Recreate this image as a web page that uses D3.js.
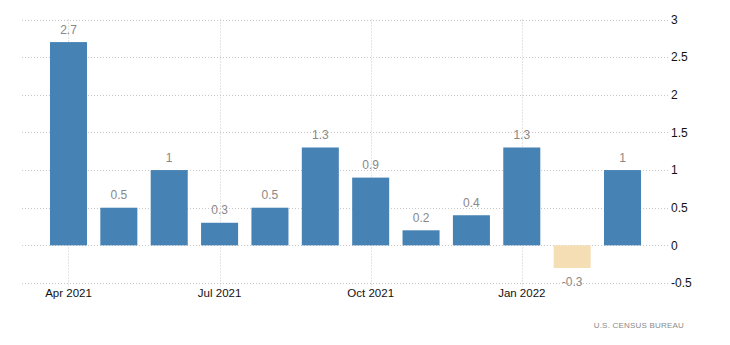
<!DOCTYPE html>
<html>
<head>
<meta charset="utf-8">
<script src="https://cdn.jsdelivr.net/npm/d3@7"></script>
<style>
  html, body { margin: 0; padding: 0; background: #fff; }
  svg { display: block; }
  text { font-family: "Liberation Sans", Arial, sans-serif; }
</style>
</head>
<body>
<svg id="chart" width="730" height="345"></svg>
<script>
// Monthly percent change, Apr 2021 – Mar 2022
const months = ["2021-04", "2021-05", "2021-06", "2021-07", "2021-08", "2021-09",
                "2021-10", "2021-11", "2021-12", "2022-01", "2022-02", "2022-03"];
const values = [2.7, 0.5, 1, 0.3, 0.5, 1.3, 0.9, 0.2, 0.4, 1.3, -0.3, 1];
const yTicks = [-0.5, 0, 0.5, 1, 1.5, 2, 2.5, 3];
const xTickMonths = ["2021-04", "2021-07", "2021-10", "2022-01"];
const xTickLabels = ["Apr 2021", "Jul 2021", "Oct 2021", "Jan 2022"];
const sourceLabel = "U.S.  CENSUS  BUREAU";

const svg = d3.select("#chart");
const gridLeft = 22, gridRight = 668;

const x = d3.scaleBand()
  .domain(months)
  .range([43.3, 647.7])
  .paddingInner(0.265)
  .paddingOuter(0.1325);

const y = d3.scaleLinear()
  .domain([-0.5, 3])
  .range([283, 19.5]);

// Horizontal dotted gridlines
svg.append("g")
  .selectAll("line")
  .data(yTicks)
  .join("line")
  .attr("x1", gridLeft)
  .attr("x2", gridRight)
  .attr("y1", d => Math.round(y(d)) + 0.5)
  .attr("y2", d => Math.round(y(d)) + 0.5)
  .attr("stroke", "#c8c8c8")
  .attr("stroke-dasharray", "1,2");

// Vertical dotted gridlines at quarter ticks
svg.append("g")
  .selectAll("line")
  .data(xTickMonths)
  .join("line")
  .attr("x1", d => Math.round(x(d) + x.bandwidth() / 2) + 0.5)
  .attr("x2", d => Math.round(x(d) + x.bandwidth() / 2) + 0.5)
  .attr("y1", y(3))
  .attr("y2", y(-0.5) + 4)
  .attr("stroke", "#c8c8c8")
  .attr("stroke-dasharray", "1,2");

// Bars
svg.append("g")
  .selectAll("rect")
  .data(months.map((m, i) => ({ m, v: values[i] })))
  .join("rect")
  .attr("x", d => x(d.m))
  .attr("width", x.bandwidth())
  .attr("y", d => y(Math.max(0, d.v)))
  .attr("height", d => Math.abs(y(d.v) - y(0)))
  .attr("fill", d => d.v < 0 ? "#f5deb3" : "#4682b4");

// Value labels
svg.append("g")
  .selectAll("text")
  .data(months.map((m, i) => ({ m, v: values[i] })))
  .join("text")
  .attr("x", d => x(d.m) + x.bandwidth() / 2)
  .attr("y", d => d.v < 0 ? y(d.v) + 18 : y(d.v) - 8.5)
  .attr("text-anchor", "middle")
  .attr("font-size", 12)
  .attr("fill", "#888")
  .text(d => String(d.v));

// Right-hand y axis labels
const yAxis = d3.axisRight(y)
  .tickValues(yTicks)
  .tickSize(0)
  .tickPadding(0)
  .tickFormat(d => String(d));
svg.append("g")
  .attr("transform", `translate(671,0)`)
  .call(yAxis)
  .call(g => g.select(".domain").remove())
  .call(g => g.selectAll("text")
    .attr("font-size", 12)
    .attr("font-family", "Liberation Sans, Arial, sans-serif")
    .attr("fill", "#111"));

// Bottom x axis labels
const xAxis = d3.axisBottom(x)
  .tickValues(xTickMonths)
  .tickSize(0)
  .tickPadding(0)
  .tickFormat(d => xTickLabels[xTickMonths.indexOf(d)]);
svg.append("g")
  .attr("transform", `translate(0,289)`)
  .call(xAxis)
  .call(g => g.select(".domain").remove())
  .call(g => g.selectAll("text")
    .attr("font-size", 11.5)
    .attr("font-family", "Liberation Sans, Arial, sans-serif")
    .attr("fill", "#111"));

// Source note
svg.append("text")
  .attr("x", 684)
  .attr("y", 328)
  .attr("text-anchor", "end")
  .attr("font-size", 8)
  .attr("letter-spacing", 0.2)
  .attr("fill", "#8a8a8a")
  .text(sourceLabel);
</script>
</body>
</html>
